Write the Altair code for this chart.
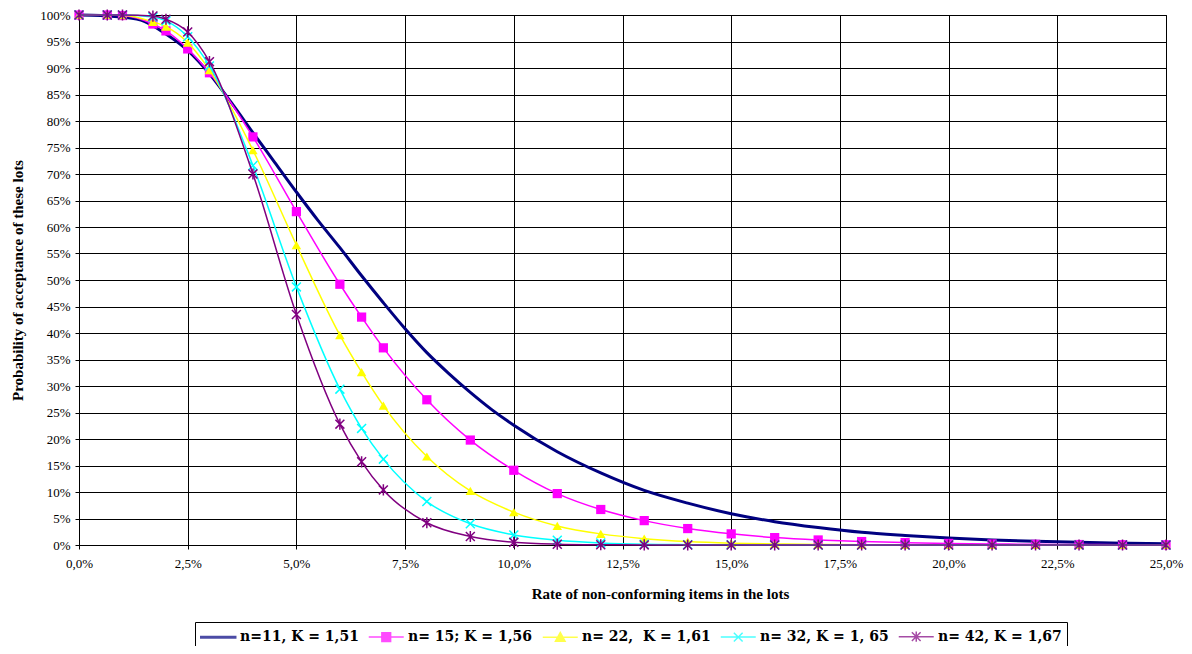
import altair as alt
import pandas as pd

# ---------------- data ----------------
series_names = ["n=11, K = 1,51", "n= 15; K = 1,56", "n= 22,\u00a0 K = 1,61",
                "n= 32, K = 1, 65", "n= 42, K = 1,67"]
series_colors = ["#000080", "#FF00FF", "#FFFF00", "#00FFFF", "#800080"]

# smooth curve (no markers) n=11
x_n11 = [0, 0.5, 1, 1.5, 2, 2.5, 3, 3.5, 4, 4.5, 5, 5.5, 6, 6.5, 7, 7.5, 8, 8.5, 9, 9.5,
         10, 11, 12, 13, 14, 15, 16, 17, 18, 19, 20, 21, 22, 23, 24, 25]
y_n11 = [100, 99.9, 99.6, 98.8, 96.4, 93.3, 88.9, 83.5, 77.8, 72.2, 66.6, 61.2, 56.1, 50.8,
         45.7, 40.8, 36.3, 32.4, 28.8, 25.5, 22.6, 17.6, 13.6, 10.3, 7.9, 5.9, 4.4, 3.3,
         2.4, 1.8, 1.3, 0.95, 0.7, 0.5, 0.35, 0.25]

# curves with markers
x_pts = [0, 0.65, 1, 1.7, 2, 2.5, 3, 4, 5, 6, 6.5, 7, 8, 9, 10, 11, 12, 13, 14, 15,
         16, 17, 18, 19, 20, 21, 22, 23, 24, 25]
y_n15 = [100, 100, 99.9, 98.3, 97.0, 93.6, 89.1, 77.0, 62.9, 49.2, 43.0, 37.2, 27.4, 19.8,
         14.1, 9.7, 6.7, 4.6, 3.1, 2.1, 1.4, 0.95, 0.65, 0.45, 0.3, 0.2, 0.13, 0.09, 0.06, 0.04]
y_n22 = [100, 100, 99.95, 98.7, 97.8, 94.8, 89.6, 74.5, 56.6, 39.6, 32.6, 26.3, 16.7, 10.2,
         6.2, 3.6, 2.1, 1.2, 0.65, 0.35, 0.2, 0.1, 0.06, 0.03, 0.02, 0.01, 0, 0, 0, 0]
y_n32 = [100, 100, 100, 99.6, 98.9, 95.9, 90.4, 71.6, 48.7, 29.4, 22.0, 16.2, 8.2, 4.0,
         1.9, 0.9, 0.4, 0.15, 0.07, 0.03, 0.01, 0, 0, 0, 0, 0, 0, 0, 0, 0]
y_n42 = [100, 100, 100, 99.8, 99.2, 96.8, 91.2, 70.0, 43.5, 22.8, 15.7, 10.4, 4.2, 1.6,
         0.5, 0.15, 0.05, 0.02, 0, 0, 0, 0, 0, 0, 0, 0, 0, 0, 0, 0]

x_ticks = [0, 2.5, 5, 7.5, 10, 12.5, 15, 17.5, 20, 22.5, 25]
y_ticks = list(range(0, 101, 5))

# ---------------- styling ----------------
SERIF = "Liberation Serif, Times New Roman, serif"

x_enc = alt.X("x:Q", scale=alt.Scale(domain=[0, 25], nice=False, zero=False),
              axis=alt.Axis(values=x_ticks,
                            labelExpr="replace(format(datum.value, '.1f'), '.', ',') + '%'",
                            title="Rate of non-conforming items in the lots",
                            titleFont=SERIF, titleFontSize=15, titleFontWeight="bold",
                            titleColor="black", titleX=581, titleY=48,
                            titleBaseline="middle",
                            labelFont=SERIF, labelFontSize=13, labelColor="black",
                            labelPadding=8, tickSize=4, tickColor="black",
                            domainColor="black", gridColor="black", gridOpacity=1,
                            gridWidth=1, grid=True, labelFlush=False))
y_enc = alt.Y("y:Q", scale=alt.Scale(domain=[0, 100], nice=False),
              axis=alt.Axis(values=y_ticks, labelExpr="datum.value + '%'",
                            title="Probability of acceptance of these lots",
                            titleFont=SERIF, titleFontSize=15, titleFontWeight="bold",
                            titleColor="black", titlePadding=14,
                            labelFont=SERIF, labelFontSize=13, labelColor="black",
                            labelPadding=5, tickSize=4, tickColor="black",
                            domainColor="black", gridColor="black", gridOpacity=1,
                            gridWidth=1, grid=True))

marker_shapes = {
    1: dict(shape="square", filled=True, size=85, strokeWidth=0),
    2: dict(shape="triangle-up", filled=True, size=90, strokeWidth=0),
    3: dict(shape="M-1,-1L1,1M-1,1L1,-1", filled=False, size=80, strokeWidth=1.5),
    4: dict(shape="M-1,-1L1,1M-1,1L1,-1M0,-1.25L0,1.25", filled=False, size=80, strokeWidth=1.5),
}

legend_paths = [
    "M-1,-0.08H3V0.08H-1Z",
    "M-1,0H3M0.5,-0.5H1.5V0.5H0.5Z",
    "M-1,0H3M1,-0.55L1.55,0.45H0.45Z",
    "M-1,0H3M0.5,-0.5L1.5,0.5M0.5,0.5L1.5,-0.5",
    "M-1,0H3M0.5,-0.5L1.5,0.5M0.5,0.5L1.5,-0.5M1,-0.6V0.6",
]

layers = []
# n=11 smooth thick line
df11 = pd.DataFrame({"x": x_n11, "y": y_n11})
layers.append(alt.Chart(df11).mark_line(color=series_colors[0], strokeWidth=3,
                                        interpolate="monotone").encode(x=x_enc, y=y_enc))

for i, ys in enumerate([y_n15, y_n22, y_n32, y_n42], start=1):
    df = pd.DataFrame({"x": x_pts, "y": ys})
    layers.append(alt.Chart(df).mark_line(color=series_colors[i], strokeWidth=1.5,
                                          interpolate="monotone").encode(x=x_enc, y=y_enc))
    m = marker_shapes[i]
    layers.append(alt.Chart(df).mark_point(shape=m["shape"], filled=m["filled"], size=m["size"],
                                           strokeWidth=m["strokeWidth"], color=series_colors[i],
                                           opacity=1).encode(x=x_enc, y=y_enc))

# legend-only layer (no marks drawn)
leg_props = dict(orient="none", legendX=116, legendY=607, direction="horizontal",
                 columns=5, title=None, strokeColor="black", padding=5,
                 labelFont="DejaVu Serif", labelFontSize=14, labelFontWeight="bold",
                 labelColor="black", labelOffset=21, columnPadding=6,
                 symbolSize=306, symbolStrokeWidth=1.5, symbolFillColor="black",
                 symbolStrokeColor="black", labelLimit=300, fillColor="white")
leg_df = pd.DataFrame({"series": series_names, "x": [0] * 5, "y": [0] * 5})
legend_layer = alt.Chart(leg_df).mark_point(filled=True).encode(
    x=x_enc, y=y_enc,
    fill=alt.Fill("series:N", scale=alt.Scale(domain=series_names, range=series_colors),
                  legend=alt.Legend(**leg_props)),
    stroke=alt.Stroke("series:N", scale=alt.Scale(domain=series_names, range=series_colors),
                      legend=alt.Legend(**leg_props)),
    shape=alt.Shape("series:N", scale=alt.Scale(domain=series_names, range=legend_paths),
                    legend=alt.Legend(**leg_props)),
).transform_filter("datum.x > 1000")
layers.append(legend_layer)

chart = alt.layer(*layers).properties(
    width=1087, height=530,
    padding={"left": 71, "top": 7, "right": 18, "bottom": 101},
    autosize=alt.AutoSizeParams(type="none"),
    background="white",
).configure_view(stroke="black", strokeWidth=1)

chart.save("out.html", embed_options={"renderer": "svg", "actions": False})
